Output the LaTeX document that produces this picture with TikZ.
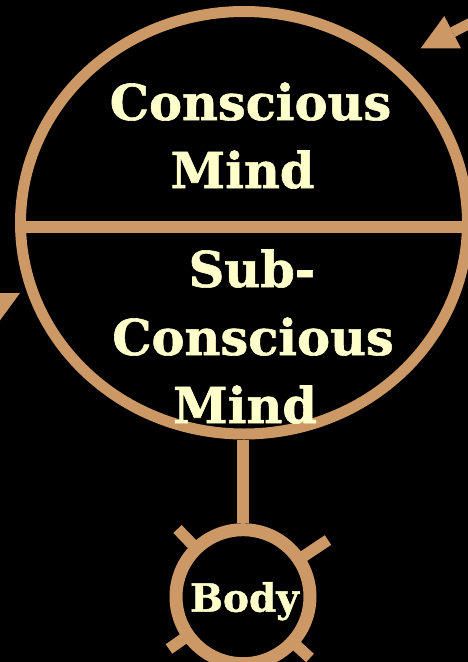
\documentclass[tikz,border=0pt]{standalone}
\usepackage{fontspec}
\setmainfont{DejaVu Serif}
\newfontfamily\heavyfont{DejaVu Serif Bold}[FakeBold=1.2]
\usetikzlibrary{shapes.geometric,arrows.meta}
\definecolor{ring}{HTML}{CC9966}
\definecolor{cream}{HTML}{FFFFCC}
\tikzset{
  ringline/.style={draw=ring,line width=11pt,fill=black},
  bigtext/.style={text=cream,anchor=base,inner sep=0pt,font=\heavyfont\fontsize{49.4}{49.4}\selectfont},
  bodytext/.style={text=cream,anchor=base,inner sep=0pt,font=\heavyfont\fontsize{39}{39}\selectfont},
  spoke/.style={draw=ring,line width=11.5pt},
  flow/.style={draw=ring,line width=10.5pt},
  headfill/.style={fill=ring},
}
\begin{document}
\begin{tikzpicture}[x=1pt,y=-1pt]
\useasboundingbox (0,0) rectangle (468,662);
\fill[black] (0,0) rectangle (468,662);
\clip (0,0) rectangle (468,662);
% big mind ellipse
\node[ellipse,ringline,inner sep=0pt,minimum width=447pt,minimum height=422.5pt] (big) at (244,222.75) {};
\coordinate (dl) at (20.5,226.7);
\coordinate (dr) at (467.5,226.7);
\draw[draw=ring,line width=12pt] (dl) -- (dr);
% flow arrow, top right
\coordinate (a1s) at (483.8,16.1);
\coordinate (a1b) at (452.7,32.2);
\coordinate (a1t) at (420.7,48.3);
\draw[flow] (a1s) -- (a1b);
\fill[headfill] (a1t) -- (444.3,16) -- (461,48.3) -- cycle;
% flow arrow, left
\coordinate (a2s) at (-43,325.3);
\coordinate (a2b) at (-12,309.2);
\coordinate (a2t) at (20,293);
\draw[flow] (a2s) -- (a2b);
\fill[headfill] (a2t) -- (-20.3,293) -- (-3.6,325.3) -- cycle;
% body
\coordinate (bc) at (243,596.7);
\coordinate (ul) at (177.5,529);
\coordinate (ur) at (328,540);
\coordinate (ll) at (169,649);
\coordinate (lr) at (310,658);
\foreach \e in {ul,ur,ll,lr} \draw[spoke] (bc) -- (\e);
\node[circle,draw=ring,fill=black,line width=13pt,inner sep=0pt,minimum size=134pt] (body) at (bc) {};
\draw[draw=ring,line width=11.5pt] (big.south -| body.north) -- (body.north);
% texts
\node[bigtext] (t1) at (250.5,120) {Conscious};
\node[bigtext] (t2) at (242.5,188) {Mind};
\node[bigtext] (t3) at (252,287) {Sub-};
\node[bigtext] (t4) at (253,355) {Conscious};
\node[bigtext] (t5) at (245,423) {Mind};
\node[bodytext] (t6) at (244.5,611.7) {Body};
\end{tikzpicture}
\end{document}
